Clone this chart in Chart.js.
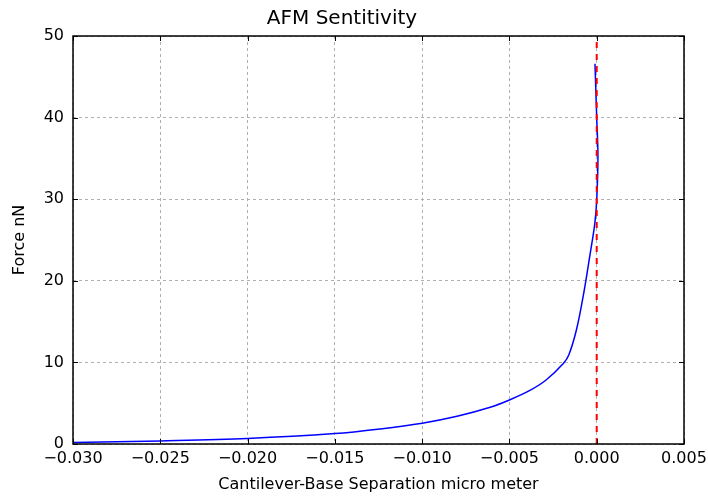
<!DOCTYPE html>
<html>
<head>
<meta charset="utf-8">
<script src="https://cdn.jsdelivr.net/npm/chart.js@4"></script>
<style>
  html, body { margin: 0; padding: 0; background: #fff; }
  #wrap { width: 708px; height: 498px; }
</style>
</head>
<body>
<div id="wrap"><canvas id="afmChart" width="708" height="498"></canvas></div>
<script>
// Separation (micro meter) and force (nN)
const separation = [-0.030, -0.025, -0.020, -0.015, -0.0124, -0.010, -0.0080, -0.0061, -0.0050, -0.0038, -0.0029, -0.0019, -0.0016, -0.00116, -0.00078, -0.0004, -0.00011, 0.0, 0.00007, 0.0, -0.0001];
const force = [0.18, 0.38, 0.68, 1.28, 1.85, 2.55, 3.4, 4.5, 5.4, 6.6, 7.84, 9.9, 10.9, 14.0, 18.05, 23.0, 27.0, 29.9, 35.2, 40.0, 46.6];
const zeroLineX = [0, 0];
const zeroLineY = [0, 50];
const xTicks = [-0.030, -0.025, -0.020, -0.015, -0.010, -0.005, 0.000, 0.005];
const yTicks = [0, 10, 20, 30, 40, 50];

const FONT = 'DejaVu Sans';

// Draw the frame and the inward tick marks on all four sides
const frameTicks = {
  id: 'frameTicks',
  afterDatasetsDraw(chart) {
    const ctx = chart.ctx;
    const a = chart.chartArea;
    const xs = chart.scales.x;
    const ys = chart.scales.y;
    ctx.save();
    ctx.strokeStyle = '#000';
    ctx.lineWidth = 1;
    xTicks.forEach(function(v) {
      const px = Math.round(xs.getPixelForValue(v)) + 0.5;
      ctx.beginPath();
      ctx.moveTo(px, a.bottom); ctx.lineTo(px, a.bottom - 5);
      ctx.moveTo(px, a.top); ctx.lineTo(px, a.top + 5);
      ctx.stroke();
    });
    yTicks.forEach(function(v) {
      const py = Math.round(ys.getPixelForValue(v)) + 0.5;
      ctx.beginPath();
      ctx.moveTo(a.left, py); ctx.lineTo(a.left + 5, py);
      ctx.moveTo(a.right, py); ctx.lineTo(a.right - 5, py);
      ctx.stroke();
    });
    ctx.lineWidth = 1.5;
    ctx.strokeRect(a.left, a.top, a.right - a.left, a.bottom - a.top);
    ctx.restore();
  }
};

function fmtX(v) {
  if (Math.abs(v) < 1e-9) return '0.000';
  return v.toFixed(3).replace('-', '\u2212');
}

document.addEventListener('DOMContentLoaded', function() {
  const ctx = document.getElementById('afmChart').getContext('2d');
  new Chart(ctx, {
    type: 'scatter',
    data: {
      datasets: [{
        label: 'sensitivity',
        data: separation.map(function(x, i) { return { x: x, y: force[i] }; }),
        showLine: true,
        borderColor: '#0000ff',
        borderWidth: 1.5,
        pointRadius: 0,
        tension: 0.35,
        order: 2
      }, {
        label: 'zero',
        data: zeroLineX.map(function(x, i) { return { x: x, y: zeroLineY[i] }; }),
        showLine: true,
        borderColor: '#ff0000',
        borderWidth: 2,
        borderDash: [6, 6],
        pointRadius: 0,
        order: 1
      }]
    },
    options: {
      responsive: false,
      animation: false,
      layout: { padding: { top: 0, right: 24, bottom: 0, left: 0 } },
      plugins: {
        legend: { display: false },
        tooltip: { enabled: false },
        title: {
          display: true,
          text: 'AFM Sentitivity',
          color: '#000',
          font: { family: FONT, size: 20, weight: 'normal' },
          padding: { top: 7, bottom: 5 }
        }
      },
      scales: {
        x: {
          type: 'linear',
          min: -0.030,
          max: 0.005,
          afterBuildTicks: function(scale) {
            scale.ticks = xTicks.map(function(v) { return { value: v }; });
          },
          ticks: {
            callback: fmtX,
            color: '#000',
            font: { family: FONT, size: 16 },
            padding: 5,
            maxRotation: 0,
            autoSkip: false
          },
          grid: {
            color: '#b0b0b0',
            drawTicks: false,
            tickLength: 0
          },
          border: { display: false, dash: [3, 3] },
          title: {
            display: true,
            text: 'Cantilever-Base Separation micro meter',
            color: '#000',
            font: { family: FONT, size: 16 },
            padding: { top: 4, bottom: 4 }
          },
          afterFit: function(scale) {
            scale.height = 54;
            // let the end labels overhang like the original
            scale.paddingLeft = 0;
            scale.paddingRight = 0;
          }
        },
        y: {
          type: 'linear',
          min: 0,
          max: 50,
          afterBuildTicks: function(scale) {
            scale.ticks = yTicks.map(function(v) { return { value: v }; });
          },
          ticks: {
            color: '#000',
            font: { family: FONT, size: 16 },
            padding: 9
          },
          grid: {
            color: '#b0b0b0',
            drawTicks: false,
            tickLength: 0
          },
          border: { display: false, dash: [3, 3] },
          title: {
            display: true,
            text: 'Force nN',
            color: '#000',
            font: { family: FONT, size: 16 },
            padding: { top: 10, bottom: 4 }
          },
          afterFit: function(scale) {
            scale.width = 73;
            scale.paddingTop = 0;
            scale.paddingBottom = 0;
          }
        }
      }
    },
    plugins: [frameTicks]
  });
});
</script>
</body>
</html>
